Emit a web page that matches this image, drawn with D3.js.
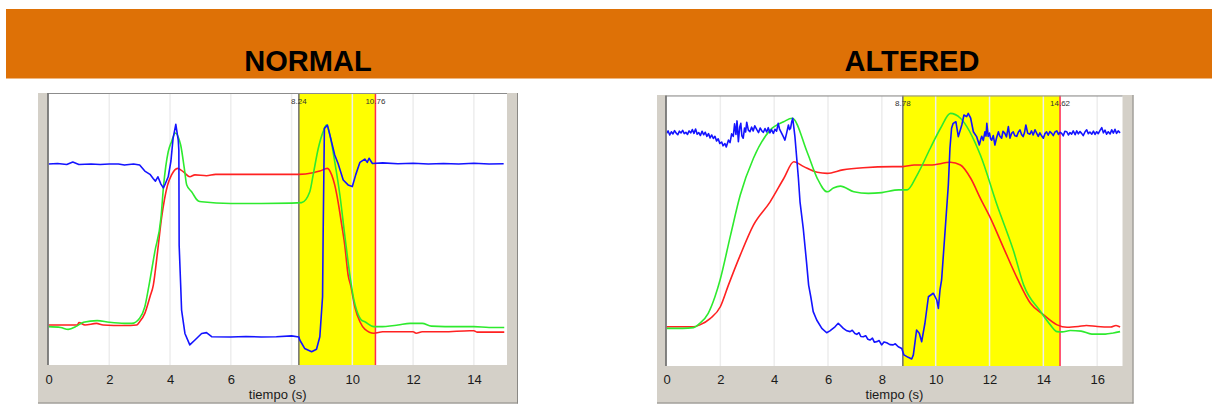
<!DOCTYPE html>
<html>
<head>
<meta charset="utf-8">
<script src="https://cdn.jsdelivr.net/npm/d3@7"></script>
<style>
  html, body { margin: 0; padding: 0; background: #ffffff; }
  svg { display: block; }
</style>
</head>
<body>
<svg id="chart" width="1212" height="405"></svg>
<script>
// Signal traces: [tiempo (s), normalised amplitude 0-100]
const normalBlue = [
  [0,73.9],[0.3,74.1],[0.6,73.7],[0.8,74.6],[1.0,73.7],[1.4,73.9],[1.7,73.7],[2.0,73.9],
  [2.3,73.9],[2.5,73.5],[2.8,73.9],[3.0,73.5],[3.17,71.3],[3.34,70.1],[3.45,68.5],[3.52,67.6],
  [3.6,69.2],[3.7,66.5],[3.78,65.1],[3.85,66.8],[3.94,69.2],[4.03,75.0],[4.1,83.3],[4.19,88.5],
  [4.27,82.7],[4.29,79.0],[4.30,44.0],[4.35,29.4],[4.38,20.2],[4.49,11.6],[4.65,7.4],[4.82,9.2],
  [5.04,11.6],[5.2,11.9],[5.37,10.4],[6.0,10.3],[6.5,10.5],[7.0,10.3],[7.5,10.4],[8.0,10.7],
  [8.24,10.3],[8.27,9.2],[8.43,6.1],[8.66,4.9],[8.82,5.8],[8.93,10.4],[9.02,25.1],[9.04,49.0],
  [9.08,87.0],[9.18,88.2],[9.26,84.6],[9.42,77.2],[9.53,74.1],[9.7,68.0],[9.86,66.2],[10.0,65.6],
  [10.11,69.9],[10.25,74.5],[10.41,75.7],[10.49,74.5],[10.55,76.0],[10.66,74.1],[11.0,74.3],
  [11.5,74.0],[12.0,74.2],[12.5,73.9],[13.0,74.1],[13.5,73.9],[14.0,74.2],[14.5,73.9],[14.98,74.0]
];
const normalGreen = [
  [0,14.1],[0.4,13.8],[0.65,13.1],[0.93,14.3],[1.15,15.7],[1.6,16.3],[2.0,15.7],[2.5,15.3],
  [2.74,15.3],[3.0,17.2],[3.17,21.4],[3.3,28.8],[3.5,41.7],[3.7,54.0],[3.79,66.2],[3.94,78.4],
  [4.05,82.1],[4.17,85.3],[4.35,80.9],[4.47,72.3],[4.55,66.2],[4.71,63.7],[4.93,60.3],[5.04,60.0],
  [6.0,59.4],[7.0,59.4],[8.0,59.5],[8.33,59.7],[8.6,63.7],[8.71,69.9],[8.88,79.7],[9.04,85.8],
  [9.15,88.2],[9.26,84.6],[9.42,74.8],[9.59,62.5],[9.75,47.8],[9.94,31.3],[10.05,24.0],
  [10.14,20.2],[10.3,16.5],[10.41,15.9],[10.71,14.1],[10.9,14.1],[11.5,14.7],[11.9,15.3],
  [12.3,15.3],[12.6,14.3],[13.5,14.1],[14.0,14.1],[14.5,13.8],[15.0,13.8]
];
const normalRed = [
  [0,14.7],[0.95,14.7],[1.0,15.6],[1.2,14.7],[1.58,15.3],[1.8,14.7],[2.5,14.5],[2.9,14.7],
  [3.0,15.9],[3.17,19.0],[3.34,25.1],[3.45,29.4],[3.59,41.7],[3.72,54.0],[3.92,66.2],[4.05,69.9],
  [4.25,72.3],[4.45,70.9],[4.65,69.2],[4.82,69.9],[5.2,69.6],[5.5,70.1],[6.0,70.1],[7.0,70.1],
  [8.0,70.1],[8.24,70.1],[8.71,70.7],[8.93,71.3],[9.18,72.3],[9.32,69.9],[9.42,66.2],[9.53,60.0],
  [9.65,51.5],[9.75,44.1],[9.86,33.1],[9.95,29.0],[10.08,21.4],[10.25,15.9],[10.41,13.2],
  [10.71,11.7],[11.0,12.2],[12.0,12.2],[12.1,11.7],[12.3,12.2],[13.0,12.2],[13.86,12.6],
  [14.0,12.6],[14.1,12.1],[15.0,12.1]
];

const alteredBlue = [
  [0,86.0],[0.06,86.9],[0.12,85.4],[0.18,86.6],[0.24,85.8],[0.3,87.0],[0.36,86.1],[0.42,85.5],
  [0.48,86.8],[0.54,86.2],[0.6,87.1],[0.66,85.9],[0.72,86.4],[0.78,85.6],[0.84,86.9],[0.9,86.2],
  [0.96,87.4],[1.02,86.0],[1.08,87.6],[1.14,85.7],[1.2,86.3],[1.26,85.2],[1.32,86.8],[1.38,85.5],
  [1.44,86.4],[1.5,84.9],[1.56,85.9],[1.62,84.3],[1.68,85.4],[1.74,84.1],[1.8,84.9],[1.86,83.2],
  [1.92,84.0],[1.98,82.3],[2.05,82.8],[2.1,81.4],[2.17,82.2],[2.22,81.0],[2.3,83.5],[2.36,82.6],
  [2.42,85.8],[2.48,84.9],[2.53,89.5],[2.58,85.6],[2.62,90.6],[2.67,82.9],[2.72,88.4],[2.76,89.7],
  [2.8,85.1],[2.85,84.2],[2.9,88.0],[2.94,86.5],[2.98,90.1],[3.04,87.2],[3.1,86.6],[3.16,88.3],
  [3.22,86.9],[3.28,88.8],[3.35,87.5],[3.42,86.3],[3.48,88.0],[3.54,86.9],[3.6,86.4],[3.66,87.8],
  [3.72,86.5],[3.78,88.1],[3.84,86.2],[3.9,87.4],[3.97,86.0],[4.03,87.5],[4.09,86.8],[4.15,89.7],
  [4.2,87.6],[4.28,86.0],[4.34,84.8],[4.4,83.5],[4.46,86.0],[4.53,89.1],[4.57,87.4],[4.61,87.9],
  [4.65,90.2],[4.69,91.6],[4.77,84.9],[4.9,69.4],[4.96,60.7],[5.08,50.9],[5.2,38.6],[5.28,29.9],
  [5.36,25.6],[5.45,20.1],[5.58,17.0],[5.77,13.9],[5.95,12.3],[6.07,13.0],[6.26,14.5],[6.38,15.8],
  [6.57,13.9],[6.7,13.0],[6.82,12.7],[6.9,13.2],[7.0,12.0],[7.07,11.7],[7.15,12.3],[7.22,10.9],
  [7.31,10.8],[7.4,11.2],[7.48,9.9],[7.56,9.6],[7.65,10.3],[7.72,8.8],[7.81,9.0],[7.9,9.4],
  [7.99,7.8],[8.08,8.9],[8.18,8.6],[8.3,7.9],[8.42,7.8],[8.5,8.2],[8.61,7.1],[8.74,6.5],
  [8.82,4.1],[8.98,3.2],[9.11,2.6],[9.17,4.1],[9.29,13.3],[9.39,12.1],[9.48,9.0],[9.6,15.8],
  [9.73,25.6],[9.91,26.9],[10.04,24.4],[10.1,21.3],[10.16,28.1],[10.22,31.8],[10.47,66.9],
  [10.53,80.5],[10.59,87.9],[10.65,89.7],[10.75,90.3],[10.84,84.8],[10.97,89.1],[11.05,92.8],
  [11.15,92.2],[11.21,93.4],[11.3,91.6],[11.4,86.6],[11.52,84.8],[11.62,81.7],[11.68,84.0],
  [11.71,84.9],[11.77,83.4],[11.83,86.6],[11.87,85.0],[11.9,89.7],[11.95,84.9],[12.0,86.1],
  [12.04,84.0],[12.08,83.5],[12.14,85.2],[12.2,81.7],[12.26,84.3],[12.33,86.6],[12.38,85.0],
  [12.45,84.2],[12.5,86.8],[12.57,86.0],[12.63,84.7],[12.7,88.5],[12.76,84.2],[12.82,86.0],
  [12.88,86.6],[12.94,85.1],[13.01,84.9],[13.07,86.4],[13.13,87.3],[13.19,85.6],[13.25,84.8],
  [13.3,86.3],[13.35,89.1],[13.42,86.0],[13.5,85.7],[13.56,86.9],[13.62,85.4],[13.69,87.3],
  [13.75,86.1],[13.81,84.9],[13.87,86.2],[13.94,85.0],[14.0,84.2],[14.06,85.9],[14.12,86.6],
  [14.18,85.3],[14.24,86.7],[14.31,86.0],[14.37,85.2],[14.43,86.5],[14.5,86.9],[14.56,85.6],
  [14.62,86.4],[14.68,86.0],[14.74,85.1],[14.8,86.8],[14.87,86.6],[14.93,85.4],[14.99,86.3],
  [15.05,85.7],[15.11,86.9],[15.18,85.5],[15.24,86.9],[15.3,85.8],[15.36,86.7],[15.42,86.0],
  [15.48,85.2],[15.55,86.6],[15.61,87.3],[15.67,85.9],[15.73,86.5],[15.8,85.7],[15.86,86.8],
  [15.92,85.6],[15.98,86.6],[16.04,85.9],[16.1,87.0],[16.17,88.1],[16.23,86.2],[16.29,87.2],
  [16.35,85.7],[16.41,86.6],[16.48,85.8],[16.54,87.3],[16.6,86.1],[16.66,87.5],[16.72,86.0],
  [16.78,86.9],[16.85,86.2]
];
const alteredGreen = [
  [0,13.9],[0.6,13.9],[1.0,14.2],[1.24,15.8],[1.55,19.5],[1.8,25.6],[1.99,31.8],[2.38,48.4],
  [2.74,63.2],[3.23,76.8],[3.85,87.2],[4.35,90.3],[4.67,91.6],[5.22,79.2],[5.6,69.4],[5.97,64.4],
  [6.2,65.8],[6.46,66.5],[6.96,64.4],[7.5,63.8],[8.0,64.1],[8.63,65.1],[8.94,65.1],[9.31,70.6],
  [9.8,80.5],[10.18,87.9],[10.55,93.4],[10.92,91.6],[11.66,78.0],[12.28,59.5],[12.9,42.3],
  [13.27,29.9],[13.9,20.1],[14.26,15.2],[14.51,12.7],[14.7,12.6],[15.0,13.1],[15.4,12.9],
  [15.8,11.8],[16.3,11.8],[16.6,12.2],[16.85,12.7]
];
const alteredRed = [
  [0,14.5],[1.0,14.5],[1.24,15.2],[1.63,17.6],[2.0,21.9],[2.3,29.9],[2.74,41.0],[3.23,52.1],
  [3.85,60.7],[4.36,69.4],[4.73,75.5],[5.1,73.7],[5.6,71.6],[5.97,71.2],[6.55,72.5],[7.3,73.3],
  [8.4,73.7],[8.78,73.7],[9.2,74.3],[9.8,74.3],[10.55,75.3],[10.92,74.3],[11.3,69.4],[11.66,62.0],
  [12.04,54.6],[12.53,43.5],[13.03,32.4],[13.52,23.2],[14.01,18.9],[14.51,15.2],[14.88,14.3],
  [15.3,14.6],[15.6,15.0],[16.0,14.6],[16.5,14.4],[16.7,15.0],[16.85,14.4]
];

// Axis ticks and selected analysis windows
const normalTicks = [0, 2, 4, 6, 8, 10, 12, 14];
const alteredTicks = [0, 2, 4, 6, 8, 10, 12, 14, 16];
const normalWindow = [8.24, 10.76];
const alteredWindow = [8.78, 14.62];
const windowLabels = { normal: ["8.24", "10.76"], altered: ["8.78", "14.62"] };
const titles = ["NORMAL", "ALTERED"];
const axisTitle = "tiempo (s)";

const svg = d3.select("#chart");
const FONT = "'Liberation Sans', Arial, sans-serif";

// Header banner
svg.append("rect").attr("x", 6).attr("y", 9).attr("width", 1206).attr("height", 69.5)
  .attr("fill", "#de7106");

svg.append("text").attr("x", 308).attr("y", 71).attr("text-anchor", "middle")
  .attr("font-family", FONT).attr("font-weight", "bold").attr("font-size", 29)
  .attr("fill", "#000").text(titles[0]);
svg.append("text").attr("x", 912).attr("y", 71).attr("text-anchor", "middle")
  .attr("font-family", FONT).attr("font-weight", "bold").attr("font-size", 29)
  .attr("fill", "#000").text(titles[1]);

function drawPanel(id, cfg) {
  const g = svg.append("g");
  const { frame, plot } = cfg;

  // window frame
  g.append("rect").attr("x", frame.x0).attr("y", frame.y0)
    .attr("width", frame.x1 - frame.x0).attr("height", frame.y1 - frame.y0)
    .attr("fill", "#d4d0c8");
  g.append("line").attr("x1", frame.x1 - 0.5).attr("x2", frame.x1 - 0.5)
    .attr("y1", frame.y0).attr("y2", frame.y1).attr("stroke", "#8a8884").attr("stroke-width", 1);
  g.append("line").attr("x1", frame.x0).attr("x2", frame.x1)
    .attr("y1", frame.y1 - 0.5).attr("y2", frame.y1 - 0.5).attr("stroke", "#8a8884").attr("stroke-width", 1);

  // plotting area
  g.append("rect").attr("x", plot.left).attr("y", plot.top)
    .attr("width", plot.right - plot.left).attr("height", plot.bottom - plot.top)
    .attr("fill", "#ffffff");

  const x = d3.scaleLinear().domain([0, cfg.xMax]).range([plot.left, plot.right]);
  const y = d3.scaleLinear().domain([0, 100]).range([plot.bottom, plot.top]);

  const clipId = "clip-" + id;
  svg.append("clipPath").attr("id", clipId).append("rect")
    .attr("x", plot.left).attr("y", plot.top)
    .attr("width", plot.right - plot.left).attr("height", plot.bottom - plot.top);

  const inner = g.append("g").attr("clip-path", `url(#${clipId})`);

  // highlighted window
  inner.append("rect")
    .attr("x", x(cfg.window[0])).attr("y", plot.top)
    .attr("width", x(cfg.window[1]) - x(cfg.window[0]))
    .attr("height", plot.bottom - plot.top)
    .attr("fill", "#ffff00");

  // vertical grid
  inner.selectAll("line.grid").data(cfg.ticks.filter(t => t > 0)).enter().append("line")
    .attr("class", "grid")
    .attr("x1", d => x(d)).attr("x2", d => x(d))
    .attr("y1", plot.top).attr("y2", plot.bottom)
    .attr("stroke", "#ededed").attr("stroke-width", 1.5);

  // window edges
  inner.append("line").attr("x1", x(cfg.window[0])).attr("x2", x(cfg.window[0]))
    .attr("y1", plot.top).attr("y2", plot.bottom)
    .attr("stroke", "#6e6e6e").attr("stroke-width", 1.5);
  inner.append("line").attr("x1", x(cfg.window[1])).attr("x2", x(cfg.window[1]))
    .attr("y1", plot.top).attr("y2", plot.bottom)
    .attr("stroke", "#ff2a55").attr("stroke-width", 1.5);

  // traces: smooth pressure curves, raw blue signal
  const smooth = d3.line().x(d => x(d[0])).y(d => y(d[1])).curve(d3.curveMonotoneX);
  const raw = d3.line().x(d => x(d[0])).y(d => y(d[1]));
  const traces = [
    { data: cfg.red, color: "#ff2121", gen: smooth },
    { data: cfg.green, color: "#2eea2e", gen: smooth },
    { data: cfg.blue, color: "#1414ff", gen: raw }
  ];
  traces.forEach(tr => {
    inner.append("path").datum(tr.data).attr("d", tr.gen)
      .attr("fill", "none").attr("stroke", tr.color)
      .attr("stroke-width", 1.6).attr("stroke-linejoin", "round");
  });

  // window value labels
  cfg.windowText.forEach((label, i) => {
    g.append("text").attr("x", x(cfg.window[i])).attr("y", plot.top + 10.5)
      .attr("text-anchor", "middle").attr("font-family", FONT).attr("font-size", 8)
      .attr("fill", "#333").text(label);
  });

  // sunken border of plot area
  g.append("line").attr("x1", plot.left).attr("x2", plot.right)
    .attr("y1", plot.top + 0.5).attr("y2", plot.top + 0.5)
    .attr("stroke", "#8c8c8c").attr("stroke-width", 1.2);
  g.append("line").attr("x1", plot.left - 0.5).attr("x2", plot.left - 0.5)
    .attr("y1", plot.top).attr("y2", plot.bottom)
    .attr("stroke", "#6a6a6a").attr("stroke-width", 1.6);

  // x axis
  const axis = d3.axisBottom(x).tickValues(cfg.ticks).tickSize(0).tickFormat(d3.format("d"));
  const ax = g.append("g").attr("transform", `translate(0,${plot.bottom})`).call(axis);
  ax.select(".domain").remove();
  ax.selectAll("text").attr("dy", null).attr("y", 384 - plot.bottom)
    .attr("font-family", FONT).attr("font-size", 13).attr("fill", "#1a1a1a");

  g.append("text").attr("x", (plot.left + plot.right) / 2).attr("y", 399)
    .attr("text-anchor", "middle").attr("font-family", FONT).attr("font-size", 13)
    .attr("fill", "#1a1a1a").text(axisTitle);
}

drawPanel("normal", {
  frame: { x0: 38, y0: 93, x1: 518, y1: 403.5 },
  plot: { left: 48.5, right: 507, top: 93, bottom: 365 },
  xMax: 15.09,
  ticks: normalTicks,
  window: normalWindow,
  windowText: windowLabels.normal,
  blue: normalBlue, green: normalGreen, red: normalRed
});

drawPanel("altered", {
  frame: { x0: 657, y0: 95, x1: 1133.5, y1: 403.5 },
  plot: { left: 666.5, right: 1122.5, top: 95.5, bottom: 366 },
  xMax: 16.94,
  ticks: alteredTicks,
  window: alteredWindow,
  windowText: windowLabels.altered,
  blue: alteredBlue, green: alteredGreen, red: alteredRed
});
</script>
</body>
</html>
